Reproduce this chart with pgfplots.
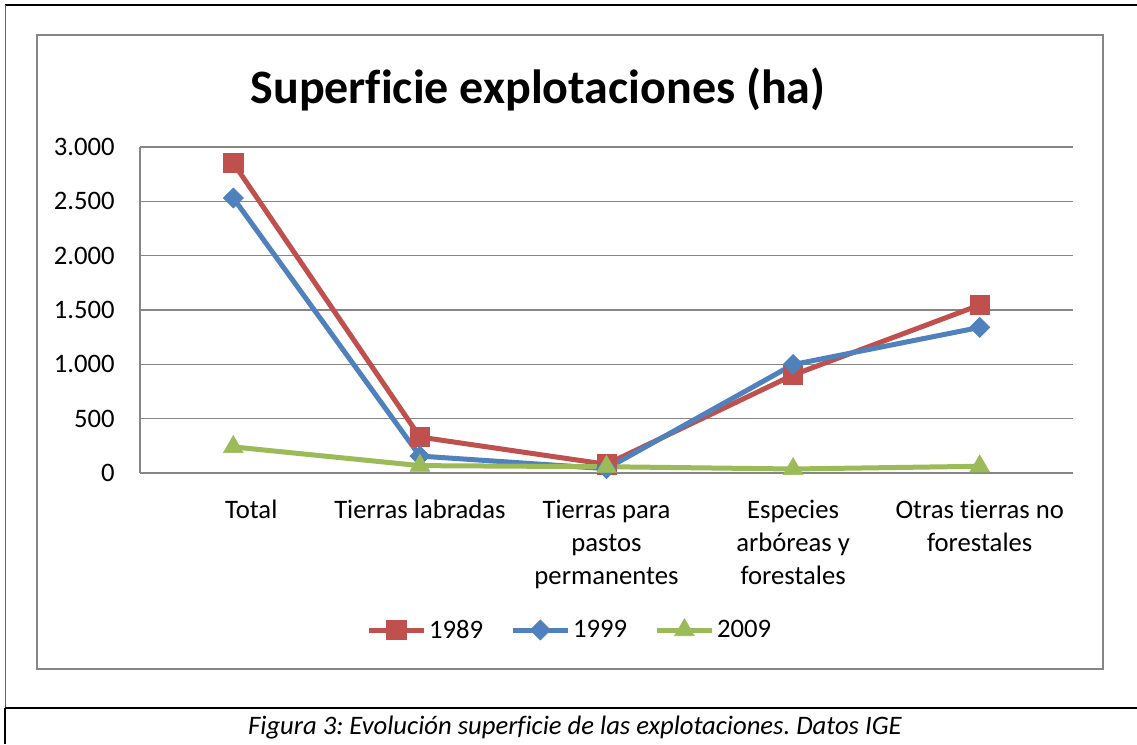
\documentclass[border=0pt]{standalone}
\usepackage{fontspec}
\setmainfont{Carlito}[Ligatures=NoCommon]
\usepackage{pgfplots}
\pgfplotsset{compat=1.18}
\definecolor{cred}{HTML}{C0504D}
\definecolor{cblue}{HTML}{4F81BD}
\definecolor{cgreen}{HTML}{9BBB59}
\definecolor{cgrid}{HTML}{868686}
\frenchspacing
\begin{document}
\begin{tikzpicture}
\begin{scope}[x=0.75pt,y=-0.75pt]
\path[use as bounding box] (0,0) rectangle (1137,744);
\fill[white] (0,0) rectangle (1137,744);
\draw[black,line width=1.5pt] (5,5) -- (1137,5);
\draw[black!60,line width=0.75pt] (5,5) -- (5,708);
\draw[black,line width=1.5pt] (5,708) -- (1137,708);
\draw[black,line width=2pt] (5,708) -- (5,744);
\draw[cgrid,line width=1.5pt] (37,35) rectangle (1103,669);
\node[font=\fontsize{36}{40}\selectfont\bfseries] at (538,89) {Superficie explotaciones (ha)};
\node[font=\fontsize{20}{24}\selectfont\itshape] at (575,728) {Figura 3: Evolución superficie de las explotaciones. Datos IGE};
\end{scope}
\begin{axis}[
  at={(105pt,-354.75pt)}, anchor=south west,
  width=699.75pt, height=244.5pt, scale only axis,
  xmin=-0.5, xmax=4.5, ymin=0, ymax=3000,
  xtick={0,1,2,3,4},
  xticklabels={\hspace*{27pt}Total, Tierras labradas, Tierras para\\pastos\\permanentes, Especies\\arbóreas y\\forestales, Otras tierras no\\forestales},
  ytick={0,500,1000,1500,2000,2500,3000},
  ymajorgrids, grid style={cgrid, line width=1.2pt},
  axis lines*=left, axis line style={cgrid,line width=1.2pt},
  major tick length=0pt,
  tick label style={font=\fontsize{20}{24.75}\selectfont},
  /pgf/number format/assume math mode=true,
  /pgf/number format/1000 sep={.},
  yticklabel style={anchor=east, inner sep=0pt, xshift=-18.75pt},
  xticklabel style={align=center, anchor=north, inner sep=0pt, yshift=-20pt},
  legend style={at={(0.461,-0.4816)}, anchor=center, draw=none,
    font=\fontsize{20}{25}\selectfont,
    /tikz/every even column/.append style={column sep=18.5pt}},
  legend columns=3,
  legend image code/.code={\draw[mark repeat=2,mark phase=2,#1] plot coordinates {(0pt,0pt)(20.6pt,0pt)(41.25pt,0pt)};},
  clip=false,
]
\addplot[cred, line width=3.75pt, mark=square*, mark size=7.2pt, mark options={line width=0.5pt}]
  coordinates {(0,2853) (1,331) (2,80) (3,902) (4,1546)};
\addlegendentry{1989}
\addplot[cblue, line width=3.75pt, mark=diamond*, mark size=7.5pt, mark options={line width=0.5pt, xscale=1.333}]
  coordinates {(0,2531) (1,156) (2,40) (3,998) (4,1340)};
\addlegendentry{1999}
\addplot[cgreen, line width=3.75pt, mark=triangle*, mark size=8.5pt, mark options={line width=0.5pt}]
  coordinates {(0,240) (1,68) (2,58) (3,37) (4,62)};
\addlegendentry{2009}
\end{axis}
\end{tikzpicture}
\end{document}
